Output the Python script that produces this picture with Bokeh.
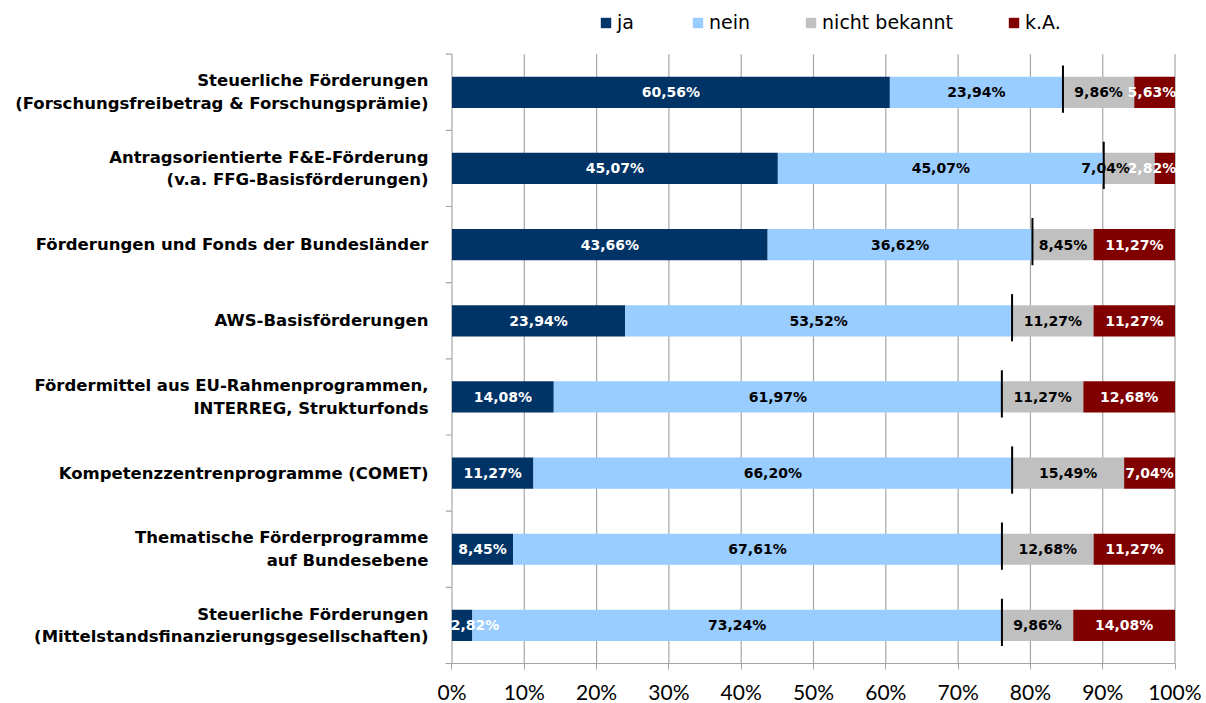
from bokeh.plotting import figure
from bokeh.models import ColumnDataSource, FixedTicker, Legend, LegendItem, PrintfTickFormatter, Range1d
from bokeh.core.properties import value
from bokeh.embed import file_html
from bokeh.resources import INLINE

categories = [
    "Steuerliche Förderungen\n(Forschungsfreibetrag & Forschungsprämie)",
    "Antragsorientierte F&E-Förderung\n(v.a. FFG-Basisförderungen)",
    "Förderungen und Fonds der Bundesländer",
    "AWS-Basisförderungen",
    "Fördermittel aus EU-Rahmenprogrammen,\nINTERREG, Strukturfonds",
    "Kompetenzzentrenprogramme (COMET)",
    "Thematische Förderprogramme\nauf Bundesebene",
    "Steuerliche Förderungen\n(Mittelstandsfinanzierungsgesellschaften)",
]
ja = [60.56, 45.07, 43.66, 23.94, 14.08, 11.27, 8.45, 2.82]
nein = [23.94, 45.07, 36.62, 53.52, 61.97, 66.20, 67.61, 73.24]
nicht_bekannt = [9.86, 7.04, 8.45, 11.27, 11.27, 15.49, 12.68, 9.86]
ka = [5.63, 2.82, 11.27, 11.27, 12.68, 7.04, 11.27, 14.08]
series_names = ["ja", "nein", "nicht bekannt", "k.A."]
colors = ["#003366", "#99CCFF", "#C0C0C0", "#800000"]
label_colors = ["white", "black", "black", "white"]
x_ticks = [0, 10, 20, 30, 40, 50, 60, 70, 80, 90, 100]

n = len(categories)
ys = [n - 1 - i for i in range(n)]
series = [ja, nein, nicht_bekannt, ka]
GRID = "#A6A6A6"
TOP_EXTRA = 0.6   # room for the legend above the bars
HALF_LABEL = 3.2  # half width of a value label, in percent units

p = figure(frame_width=752, frame_height=655, min_border_left=437, min_border_top=8,
           min_border_right=12, min_border_bottom=36, output_backend="svg",
           toolbar_location=None, x_range=Range1d(-2, 102),
           y_range=Range1d(-0.5, n - 0.5 + TOP_EXTRA))
p.outline_line_color = None
p.background_fill_color = "white"
p.border_fill_color = "white"
p.xgrid.grid_line_color = None
p.ygrid.grid_line_color = None

# vertical gridlines (limited to the bar area)
gsrc = ColumnDataSource(dict(x=x_ticks))
p.segment(x0="x", x1="x", y0=-0.5, y1=n - 0.5, line_color=GRID, line_width=1.2, source=gsrc)
# separator ticks on the category axis
sep = ColumnDataSource(dict(y=[i - 0.5 for i in range(n + 1)]))
p.segment(x0=-0.85, x1=0, y0="y", y1="y", line_color=GRID, line_width=1.2, source=sep)

bar_h = 0.41
renderers = []
left = [0.0] * n
bounds = []
for s, col in zip(series, colors):
    right = [l + v for l, v in zip(left, s)]
    src = ColumnDataSource(dict(y=ys, left=left, right=right))
    r = p.hbar(y="y", left="left", right="right", height=bar_h, fill_color=col,
               line_color=None, source=src)
    renderers.append(r)
    bounds.append((left, right))
    left = right

# label centres: segment middles, kept inside 0..100 and pushed apart when they collide
mids = [[min(max((l + r) / 2, HALF_LABEL), 100 - HALF_LABEL) for l, r in zip(lft, rgt)]
        for lft, rgt in bounds]
for row in range(n):
    for k in range(len(series) - 2, -1, -1):
        if mids[k][row] + HALF_LABEL > mids[k + 1][row] - HALF_LABEL:
            mids[k][row] = mids[k + 1][row] - 2 * HALF_LABEL

for s, lc, m in zip(series, label_colors, mids):
    src = ColumnDataSource(dict(y=ys, mid=m,
                                lab=[f"{v:.2f}".replace(".", ",") + "%" for v in s]))
    p.text(x="mid", y="y", text="lab", source=src, text_align="center", text_baseline="middle",
           text_color=lc, text_font=value("DejaVu Sans"), text_font_style="bold",
           text_font_size="14px")

# markers at ja + nein
mk = ColumnDataSource(dict(x=[a + b for a, b in zip(ja, nein)],
                           y0=[y - 0.27 for y in ys], y1=[y + 0.35 for y in ys]))
p.segment(x0="x", x1="x", y0="y0", y1="y1", line_color="black", line_width=2, source=mk)

xa = p.xaxis[0]
xa.ticker = FixedTicker(ticks=x_ticks)
xa.bounds = (-0.85, 100)
xa.formatter = PrintfTickFormatter(format="%d%%")
xa.axis_line_color = GRID
xa.major_tick_line_color = GRID
xa.major_tick_out = 6
xa.major_tick_in = 0
xa.minor_tick_line_color = None
xa.major_label_text_font = "Lato"
xa.major_label_text_font_size = "21px"
xa.major_label_text_color = "black"
xa.major_label_standoff = 9

ya = p.yaxis[0]
ya.ticker = FixedTicker(ticks=ys)
ya.major_label_overrides = {y: c for y, c in zip(ys, categories)}
ya.axis_line_color = None
ya.major_tick_line_color = None
ya.minor_tick_line_color = None
ya.major_tick_out = 0
ya.minor_tick_out = 0
ya.major_label_text_font = "DejaVu Sans"
ya.major_label_text_font_style = "bold"
ya.major_label_text_font_size = "16.5px"
ya.major_label_text_color = "black"
ya.major_label_text_line_height = 1.2
ya.major_label_standoff = 9

legend = Legend(items=[LegendItem(label=nm, renderers=[r]) for nm, r in zip(series_names, renderers)],
                orientation="horizontal", location=(162, 630), glyph_width=13, glyph_height=13,
                label_standoff=5, spacing=54, padding=0, margin=0,
                label_text_font="DejaVu Sans", label_text_font_size="19px",
                label_text_color="black",
                border_line_color=None, background_fill_alpha=0)
p.add_layout(legend, "center")

open("out.html", "w").write(file_html(p, INLINE))
